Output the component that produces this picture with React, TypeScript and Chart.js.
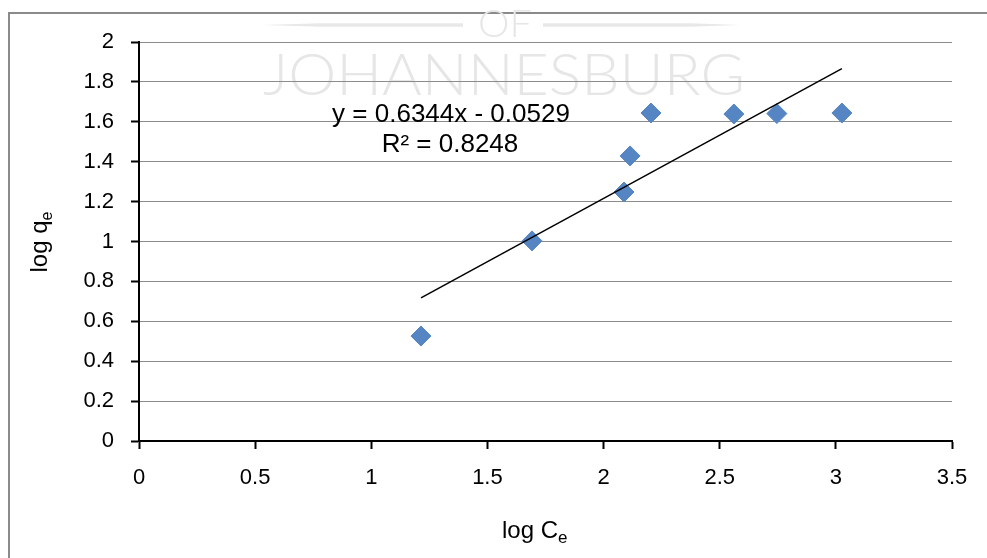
import React, { useEffect, useRef } from 'react';
import { Chart, registerables } from 'chart.js';
Chart.register(...registerables);

// Data
const logCe = [1.214, 1.692, 2.088, 2.114, 2.204, 2.561, 2.746, 3.026];
const logQe = [0.526, 1.003, 1.248, 1.429, 1.644, 1.639, 1.641, 1.644];
const trendSlope = 0.6344;
const trendIntercept = -0.0529;
const equationLabel = 'y = 0.6344x - 0.0529';
const r2Label = 'R² = 0.8248';
const xTickValues = [0, 0.5, 1, 1.5, 2, 2.5, 3, 3.5];
const yTickValues = [0, 0.2, 0.4, 0.6, 0.8, 1, 1.2, 1.4, 1.6, 1.8, 2];
const xTitle = 'log C';
const yTitle = 'log q';
const subscript = 'e';
const watermarkTop = 'OF';
const watermarkMain = 'JOHANNESBURG';

const TICK_FONT = "'Liberation Sans', Arial, sans-serif";

const backgroundPlugin = {
  id: 'bgWatermark',
  beforeDraw(chart: any) {
    const ctx = chart.ctx as CanvasRenderingContext2D;
    ctx.save();
    ctx.fillStyle = '#ffffff';
    ctx.fillRect(0, 0, chart.width, chart.height);
    // outer border (left & top visible)
    ctx.strokeStyle = '#8a8a8a';
    ctx.lineWidth = 2;
    ctx.beginPath();
    ctx.moveTo(9, chart.height + 5);
    ctx.lineTo(9, 13);
    ctx.lineTo(chart.width + 5, 13);
    ctx.stroke();
    // watermark
    ctx.fillStyle = '#e6e6e6';
    ctx.font = "300 58px Lato, 'DejaVu Sans'";
    ctx.textBaseline = 'alphabetic';
    ctx.textAlign = 'left';
    const w1 = ctx.measureText(watermarkMain).width;
    ctx.save();
    ctx.translate(263, 95);
    ctx.scale(482 / w1, 1);
    ctx.fillText(watermarkMain, 0, 0);
    ctx.restore();
    ctx.font = "300 37px Lato, 'DejaVu Sans'";
    const w2 = ctx.measureText(watermarkTop).width;
    ctx.save();
    ctx.translate(478, 37);
    ctx.scale(54 / w2, 1);
    ctx.fillText(watermarkTop, 0, 0);
    ctx.restore();
    ctx.fillStyle = '#e8e8e8';
    ctx.beginPath();
    ctx.moveTo(263, 25);
    ctx.lineTo(320, 23.3);
    ctx.lineTo(463, 23.3);
    ctx.lineTo(463, 26.7);
    ctx.lineTo(320, 26.7);
    ctx.closePath();
    ctx.fill();
    ctx.beginPath();
    ctx.moveTo(740, 25);
    ctx.lineTo(690, 23.3);
    ctx.lineTo(543, 23.3);
    ctx.lineTo(543, 26.7);
    ctx.lineTo(690, 26.7);
    ctx.closePath();
    ctx.fill();
    ctx.restore();
  },
  afterDraw(chart: any) {
    const ctx = chart.ctx as CanvasRenderingContext2D;
    ctx.save();
    ctx.fillStyle = '#000000';
    ctx.textBaseline = 'alphabetic';
    // trendline equation
    ctx.font = "26px 'Liberation Sans', Arial, sans-serif";
    ctx.textAlign = 'center';
    ctx.fillText(equationLabel, 451, 122);
    ctx.fillText(r2Label, 450, 152);
    // x title
    ctx.textAlign = 'left';
    ctx.font = "24px 'Liberation Sans', Arial, sans-serif";
    const wx = ctx.measureText(xTitle).width;
    const sx = 535 - (wx + 10) / 2;
    ctx.fillText(xTitle, sx, 538);
    ctx.font = "17px 'Liberation Sans', Arial, sans-serif";
    ctx.fillText(subscript, sx + wx, 543);
    // y title
    ctx.font = "24px 'Liberation Sans', Arial, sans-serif";
    const wy = ctx.measureText(yTitle).width;
    ctx.save();
    ctx.translate(47, 242 + (wy + 9) / 2);
    ctx.rotate(-Math.PI / 2);
    ctx.fillText(yTitle, 0, 0);
    ctx.font = "16px 'Liberation Sans', Arial, sans-serif";
    ctx.fillText(subscript, wy, 5);
    ctx.restore();
    ctx.restore();
  },
};

const fmt = (v: number) => String(Number(Number(v).toFixed(1)));

export default function App() {
  const canvasRef = useRef<HTMLCanvasElement | null>(null);
  useEffect(() => {
    if (!canvasRef.current) return;
    const xMin = Math.min(...logCe);
    const xMax = Math.max(...logCe);
    const trend = [
      { x: xMin, y: trendSlope * xMin + trendIntercept },
      { x: xMax, y: trendSlope * xMax + trendIntercept },
    ];
    const points = logCe.map((x, i) => ({ x, y: logQe[i] }));
    const chart = new Chart(canvasRef.current, {
      type: 'scatter',
      data: {
        datasets: [
          {
            type: 'line',
            label: 'Trend',
            data: trend,
            borderColor: '#000000',
            borderWidth: 1.5,
            pointRadius: 0,
            fill: false,
            order: 0,
          } as any,
          {
            label: 'log qe',
            data: points,
            pointStyle: 'rectRot',
            pointRadius: 10,
            pointHoverRadius: 10,
            backgroundColor: '#5585C2',
            borderColor: '#5585C2',
            borderWidth: 1,
            order: 1,
          },
        ],
      },
      options: {
        responsive: false,
        animation: false,
        devicePixelRatio: 1,
        layout: { padding: { left: 0, top: 42, right: 35, bottom: 0 } },
        plugins: {
          legend: { display: false },
          tooltip: { enabled: false },
        },
        scales: {
          x: {
            type: 'linear',
            min: 0,
            max: 3.5,
            afterBuildTicks: (s: any) => {
              s.ticks = xTickValues.map((v) => ({ value: v }));
            },
            afterFit: (s: any) => {
              s.height = 117;
            },
            ticks: {
              callback: (v: any) => fmt(v),
              color: '#000000',
              font: { family: TICK_FONT, size: 22 },
              padding: 16,
              maxRotation: 0,
              autoSkip: false,
            },
            grid: {
              drawOnChartArea: false,
              drawTicks: true,
              tickLength: 8,
              tickColor: '#000000',
              tickWidth: 2,
            },
            border: { display: true, color: '#000000', width: 2 },
          },
          y: {
            type: 'linear',
            min: 0,
            max: 2,
            afterBuildTicks: (s: any) => {
              s.ticks = yTickValues.map((v) => ({ value: v }));
            },
            afterFit: (s: any) => {
              s.width = 139;
            },
            ticks: {
              callback: (v: any) => fmt(v),
              color: '#000000',
              font: { family: TICK_FONT, size: 22 },
              padding: 17,
              autoSkip: false,
            },
            grid: {
              color: '#8c8c8c',
              lineWidth: 1,
              drawTicks: true,
              tickLength: 8,
              tickColor: '#000000',
              tickWidth: 2,
            },
            border: { display: true, color: '#000000', width: 2 },
          },
        },
      },
      plugins: [backgroundPlugin],
    });
    return () => chart.destroy();
  }, []);
  return (
    <div style={{ position: 'absolute', left: 0, top: 0, width: 987, height: 558 }}>
      <canvas ref={canvasRef} width={987} height={558} style={{ display: 'block' }} />
    </div>
  );
}
